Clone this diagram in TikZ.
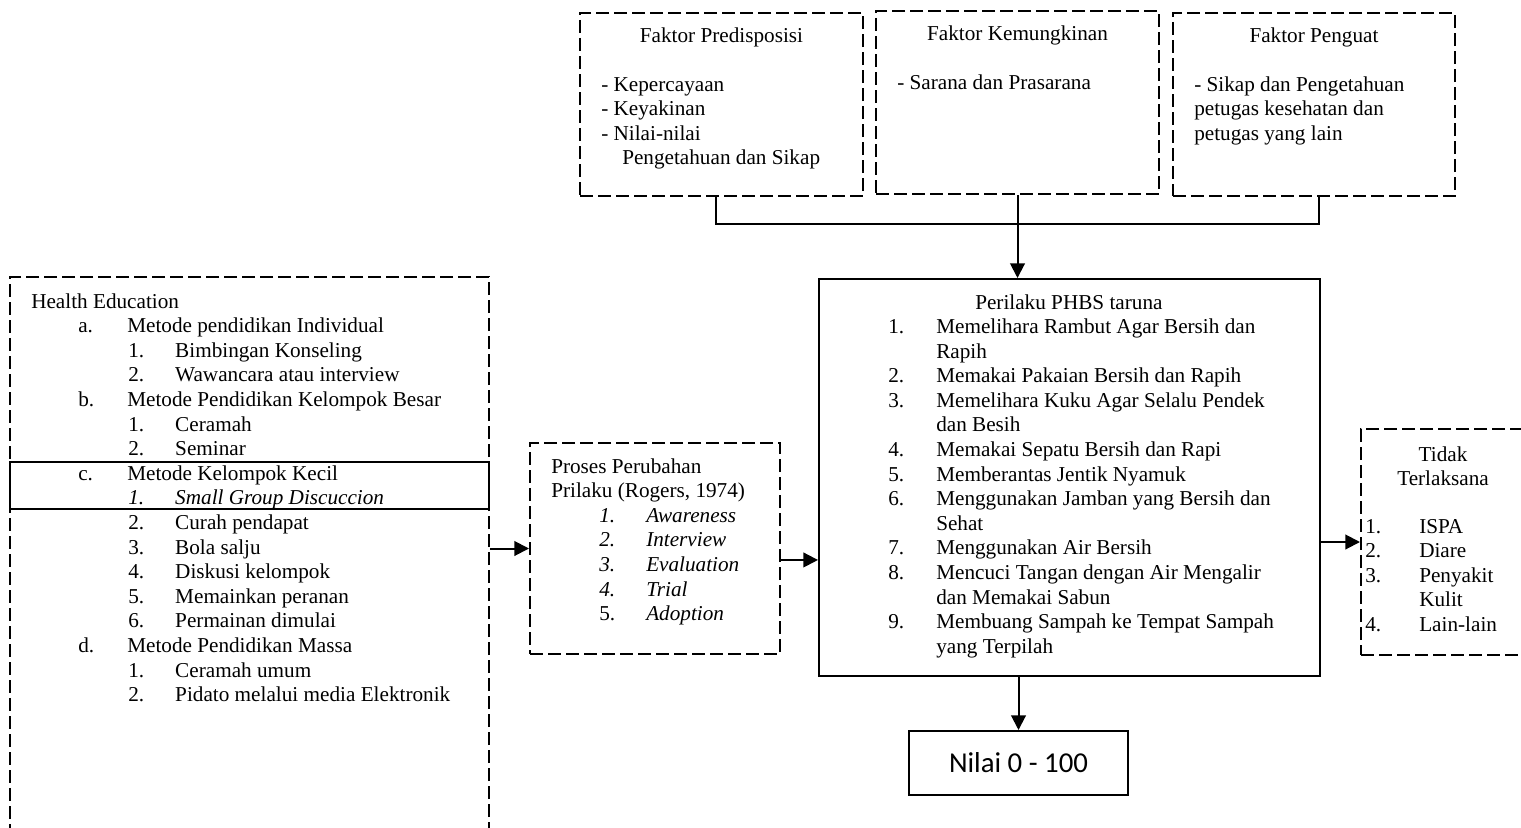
\documentclass[tikz,border=0pt]{standalone}
\usepackage{fontspec}
\setmainfont{Liberation Serif}
\newfontfamily\nilaifont{Carlito}
\usepackage{tikz}
\usetikzlibrary{arrows.meta}

\newcommand{\lettitem}[2]{\hspace*{35.25pt}\makebox[36.75pt][l]{#1}#2}
\newcommand{\numitem}[2]{\hspace*{72.75pt}\makebox[35.25pt][l]{#1}#2}
\newcommand{\procitem}[2]{\hspace*{36pt}\makebox[35.25pt][l]{#1}#2}

\begin{document}
\begin{tikzpicture}[x=0.75pt,y=0.75pt,yscale=-1,xscale=1,
  font=\fontsize{15.9}{18.45}\selectfont,
  dashbox/.style={draw, line width=1.5pt, dash pattern=on 9.5pt off 4pt, inner sep=0pt},
  solidbox/.style={draw, line width=1.5pt, inner sep=0pt},
  txt/.style={inner sep=0pt, anchor=base west},
  ctxt/.style={inner sep=0pt, anchor=base},
  conn/.style={line width=1.5pt},
  arr/.style={line width=1.5pt, -{Triangle[length=11pt,width=11pt]}}]
%set diagram size
\useasboundingbox (0,0) rectangle (1521,828);

%Boxes: faktor
\node[dashbox, minimum width=212.25pt, minimum height=137.25pt] (pred) at (721.5,104.5) {};
\node[dashbox, minimum width=212.25pt, minimum height=137.25pt] (kem) at (1017.5,102.5) {};
\node[dashbox, minimum width=211.5pt, minimum height=137.25pt] (peng) at (1314,104.5) {};

%Boxes: main row
\node[dashbox, minimum width=359.25pt, minimum height=437.25pt] (health) at (249.5,568.5) {};
\node[dashbox, minimum width=187.5pt, minimum height=158.25pt] (proc) at (655,548.5) {};
\node[solidbox, minimum width=375.75pt, minimum height=297.75pt] (phbs) at (1069.5,477.5) {};
\node[dashbox, minimum width=138pt, minimum height=169.5pt] (tidak) at (1453,542) {};
\node[solidbox, minimum width=164.25pt, minimum height=48pt, font=\nilaifont\fontsize{21.6}{24}\selectfont] (nilai) at (1018.5,763) {Nilai 0 - 100};

%Shape: highlight kelompok kecil
\draw[line width=2.2pt] (10,462) rectangle (489,509);

%Text: faktor
\node[ctxt] (predtitle) at (721.5,42) {Faktor Predisposisi};
\node[txt] (predlist) at (601,91) {\begin{tabular}[t]{@{}l@{}}
- Kepercayaan\\
- Keyakinan\\
- Nilai-nilai\\
\hspace*{15.75pt}Pengetahuan dan Sikap
\end{tabular}};
\node[ctxt] (kemtitle) at (1017.5,40) {Faktor Kemungkinan};
\node[txt] (kemlist) at (897,89) {- Sarana dan Prasarana};
\node[ctxt] (pengtitle) at (1314,42) {Faktor Penguat};
\node[txt] (penglist) at (1194,91) {\begin{tabular}[t]{@{}l@{}}
- Sikap dan Pengetahuan\\
petugas kesehatan dan\\
petugas yang lain
\end{tabular}};

%Text: health education
\node[txt] (healthlist) at (31,308) {\begin{tabular}[t]{@{}l@{}}
Health Education\\
\lettitem{a.}{Metode pendidikan Individual}\\
\numitem{1.}{Bimbingan Konseling}\\
\numitem{2.}{Wawancara atau interview}\\
\lettitem{b.}{Metode Pendidikan Kelompok Besar}\\
\numitem{1.}{Ceramah}\\
\numitem{2.}{Seminar}\\
\lettitem{c.}{Metode Kelompok Kecil}\\
\numitem{\textit{1.}}{\textit{Small Group Discuccion}}\\
\numitem{2.}{Curah pendapat}\\
\numitem{3.}{Bola salju}\\
\numitem{4.}{Diskusi kelompok}\\
\numitem{5.}{Memainkan peranan}\\
\numitem{6.}{Permainan dimulai}\\
\lettitem{d.}{Metode Pendidikan Massa}\\
\numitem{1.}{Ceramah umum}\\
\numitem{2.}{Pidato melalui media Elektronik}
\end{tabular}};

%Text: proses
\node[txt] (proclist) at (551,473) {\begin{tabular}[t]{@{}l@{}}
Proses Perubahan\\
Prilaku (Rogers, 1974)\\
\procitem{\textit{1.}}{\textit{Awareness}}\\
\procitem{\textit{2.}}{\textit{Interview}}\\
\procitem{\textit{3.}}{\textit{Evaluation}}\\
\procitem{\textit{4.}}{\textit{Trial}}\\
\procitem{5.}{\textit{Adoption}}
\end{tabular}};

%Text: perilaku
\node[txt] (phbstitle) at (975,309) {Perilaku PHBS taruna};
\node[txt] (phbslist) at (888,333.5) {\begin{tabular}[t]{@{}l@{}}
\makebox[36pt][l]{1.}Memelihara Rambut Agar Bersih dan\\
\hspace*{36pt}Rapih\\
\makebox[36pt][l]{2.}Memakai Pakaian Bersih dan Rapih\\
\makebox[36pt][l]{3.}Memelihara Kuku Agar Selalu Pendek\\
\hspace*{36pt}dan Besih\\
\makebox[36pt][l]{4.}Memakai Sepatu Bersih dan Rapi\\
\makebox[36pt][l]{5.}Memberantas Jentik Nyamuk\\
\makebox[36pt][l]{6.}Menggunakan Jamban yang Bersih dan\\
\hspace*{36pt}Sehat\\
\makebox[36pt][l]{7.}Menggunakan Air Bersih\\
\makebox[36pt][l]{8.}Mencuci Tangan dengan Air Mengalir\\
\hspace*{36pt}dan Memakai Sabun\\
\makebox[36pt][l]{9.}Membuang Sampah ke Tempat Sampah\\
\hspace*{36pt}yang Terpilah
\end{tabular}};

%Text: tidak terlaksana
\node[ctxt] (tidaktitle) at (1443,461) {\begin{tabular}[t]{@{}c@{}}Tidak\\Terlaksana\end{tabular}};
\node[txt] (tidaklist) at (1365,533) {\begin{tabular}[t]{@{}l@{}}
\makebox[40.5pt][l]{1.}ISPA\\
\makebox[40.5pt][l]{2.}Diare\\
\makebox[40.5pt][l]{3.}Penyakit\\
\hspace*{40.5pt}Kulit\\
\makebox[40.5pt][l]{4.}Lain-lain
\end{tabular}};

%Connectors
\draw[conn] ([xshift=-4.1pt]pred.south) -- ++(0,27) -| ([xshift=3.75pt]peng.south);
\draw[arr] (kem.south) -- (kem.south |- phbs.north);
\draw[arr] (health.east |- proc.west) -- (proc.west);
\draw[arr] ([yshift=8.6pt]proc.east) -- ([yshift=8.6pt]proc.east -| phbs.west);
\draw[arr] (phbs.east |- tidak.west) -- (tidak.west);
\draw[arr] (nilai.north |- phbs.south) -- (nilai.north);

\end{tikzpicture}
\end{document}
